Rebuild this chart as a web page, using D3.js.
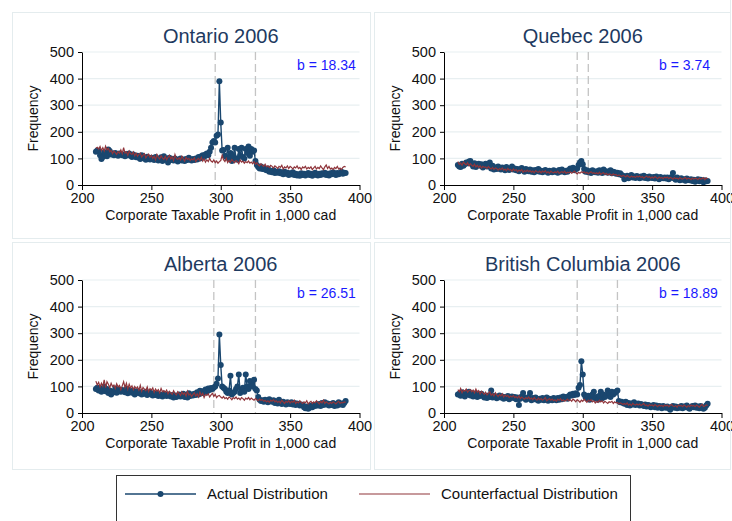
<!DOCTYPE html>
<html>
<head>
<meta charset="utf-8">
<script src="https://cdn.jsdelivr.net/npm/d3@7"></script>
<style>
  body { margin: 0; background: #fff; }
  svg { display: block; font-family: "Liberation Sans", Arial, Helvetica, sans-serif; }
</style>
</head>
<body>
<svg id="chart" width="732" height="521"></svg>
<script>
// Profit bins (in 1,000 cad), one per thousand
const bins = d3.range(210, 391);

const xTicks = [200, 250, 300, 350, 400];
const yTicks = [0, 100, 200, 300, 400, 500];

// Ontario 2006
const ontarioActual = [
  125,130,128,112,98,105,122,118,108,133,
  128,115,118,112,120,114,110,118,116,112,
  115,108,117,112,118,110,105,115,108,104,
  110,102,98,112,104,100,95,106,100,96,
  102,98,94,105,100,92,98,104,90,108,
  96,100,85,102,94,98,92,100,96,88,
  95,100,92,96,90,98,94,102,96,92,
  98,94,100,96,105,100,108,112,105,115,
  118,112,125,140,160,165,160,185,190,390,
  235,130,132,110,105,140,100,120,90,110,
  140,100,95,135,110,140,105,100,135,120,
  145,110,135,125,130,90,75,68,62,70,
  60,65,58,55,62,50,52,48,55,45,
  50,46,52,44,48,40,50,42,46,38,
  44,40,48,38,42,36,40,35,44,38,
  42,36,40,45,38,42,35,40,46,38,
  36,42,38,44,40,46,38,42,36,44,
  40,48,42,38,45,40,44,50,42,46,
  45
];
const ontarioCounter = [
  138,142,135,145,130,140,128,146,132,138,
  125,130,118,128,122,115,126,120,132,118,
  140,120,125,112,128,118,115,124,110,120,
  108,115,120,105,112,118,102,110,116,104,
  112,100,108,95,115,104,98,110,102,96,
  108,95,104,112,98,106,92,115,100,96,
  102,94,108,98,90,104,96,100,92,98,
  94,102,88,96,100,92,104,90,98,86,
  95,88,100,90,86,94,84,90,82,88,
  92,112,95,88,100,84,92,86,96,90,
  84,92,88,80,94,86,90,82,88,84,
  90,82,86,80,88,78,84,76,72,80,
  74,70,78,68,72,66,74,70,64,72,
  68,62,70,66,74,60,68,64,72,62,
  70,66,60,68,64,72,62,66,58,68,
  64,70,60,66,62,68,58,64,70,60,
  66,62,72,64,58,68,75,62,70,60,
  64,58,66,62,70,60,64,58,66,70,
  68
];
const ontarioCuts = [296, 325];
const ontarioB = "b = 18.34";

// Quebec 2006
const quebecActual = [
  75,70,68,80,72,78,85,82,88,90,
  78,70,82,68,75,80,72,78,66,74,
  80,70,76,85,62,72,58,66,60,70,
  62,58,66,60,55,68,60,56,62,70,
  58,62,55,60,52,58,64,55,50,60,
  56,52,58,50,55,48,56,52,60,50,
  54,48,52,56,50,46,54,50,48,55,
  50,52,46,56,50,58,52,48,54,50,
  56,62,58,65,55,60,62,75,85,90,
  78,60,50,55,48,52,45,55,50,48,
  52,46,55,50,45,58,48,52,46,50,
  55,44,50,48,42,46,40,44,38,35,
  22,28,35,25,30,38,28,32,26,34,
  30,25,32,28,35,26,30,24,32,28,
  26,30,24,32,28,22,30,26,25,28,
  24,28,22,26,30,45,24,20,28,22,
  18,25,20,22,16,24,20,18,22,15,
  20,12,18,22,14,20,16,10,18,14,
  15
];
const quebecCounter = [
  88,78,82,74,86,80,76,84,72,80,
  74,70,78,68,74,66,72,64,70,66,
  68,62,70,64,60,66,58,64,62,56,
  62,58,64,56,60,54,62,56,58,52,
  60,54,58,50,56,52,58,48,54,50,
  56,50,54,48,52,46,54,50,48,52,
  46,52,48,54,46,50,44,52,48,46,
  50,46,52,44,48,50,46,52,44,48,
  46,50,44,48,52,46,42,48,44,50,
  46,50,44,48,42,46,50,44,46,42,
  46,42,48,40,44,46,40,44,38,42,
  40,36,42,38,40,34,38,36,32,36,
  34,30,36,32,28,34,30,32,28,34,
  30,34,28,32,26,30,34,28,32,26,
  30,26,32,28,24,30,26,28,24,30,
  26,30,24,28,26,22,28,24,26,22,
  28,24,22,26,28,22,26,24,20,26,
  22,26,24,20,26,22,24,28,20,26,
  24
];
const quebecCuts = [296, 304];
const quebecB = "b = 3.74";

// Alberta 2006
const albertaActual = [
  90,95,85,92,80,88,100,82,90,75,
  85,70,80,78,92,76,84,88,80,86,
  82,78,90,74,86,80,76,84,70,78,
  82,74,78,70,76,72,80,68,74,78,
  70,66,74,68,72,64,70,66,62,72,
  68,64,70,66,62,68,58,66,60,64,
  70,62,66,72,60,68,58,74,64,70,
  66,72,68,78,70,84,74,82,76,88,
  80,92,86,94,90,96,100,110,130,295,
  180,100,95,90,80,75,85,140,70,75,
  80,90,100,145,75,85,95,80,145,100,
  90,120,115,100,125,90,85,60,50,45,
  48,42,50,44,40,52,46,42,48,38,
  44,36,50,40,34,42,38,32,40,36,
  34,40,32,38,30,36,34,28,32,30,
  22,18,24,16,20,28,22,30,26,32,
  28,34,26,38,30,40,32,36,28,34,
  30,38,26,34,28,40,32,36,30,38,
  45
];
const albertaCounter = [
  120,105,115,98,112,100,125,95,118,108,
  95,112,100,105,92,110,98,104,88,102,
  118,96,112,90,108,94,102,88,100,92,
  98,86,104,82,96,90,84,98,80,92,
  86,94,78,90,82,88,76,92,80,84,
  78,86,72,82,76,70,84,74,68,80,
  74,66,80,70,76,64,82,68,72,62,
  70,76,64,72,60,78,66,74,58,70,
  66,72,60,68,74,62,70,58,64,66,
  60,56,62,54,58,52,60,56,50,58,
  54,60,52,56,50,58,54,48,56,52,
  58,50,56,52,48,54,50,46,52,48,
  50,44,48,42,46,40,48,44,50,42,
  46,40,44,38,48,42,36,44,40,46,
  38,44,40,48,36,42,38,46,40,36,
  42,38,46,34,40,44,36,42,38,46,
  40,34,44,38,48,36,42,38,34,40,
  36,42,38,34,40,44,36,40,38,42,
  40
];
const albertaCuts = [295, 325];
const albertaB = "b = 26.51";

// British Columbia 2006
const bcActual = [
  70,72,65,78,68,62,75,70,80,66,
  72,62,68,74,60,70,64,72,66,58,
  62,56,66,60,85,58,64,62,55,60,
  66,58,62,54,60,56,64,52,58,62,
  56,60,52,58,30,54,62,75,58,50,
  54,60,75,48,56,52,58,50,46,54,
  50,56,48,52,58,46,54,50,48,56,
  52,48,56,50,58,52,62,56,60,54,
  64,70,66,72,68,74,70,95,105,195,
  145,70,60,55,65,50,60,70,80,55,
  60,50,65,80,55,70,60,65,85,75,
  60,80,70,75,80,85,45,40,42,38,
  35,42,30,38,28,36,32,40,30,34,
  36,28,34,30,26,32,24,30,28,22,
  26,30,22,28,20,26,24,18,26,22,
  20,24,18,12,22,26,20,24,18,22,
  20,26,18,24,22,28,20,16,22,26,
  22,28,20,24,18,26,22,16,20,28,
  35
];
const bcCounter = [
  88,80,92,76,86,82,90,78,84,88,
  80,86,76,90,78,84,72,82,76,70,
  78,68,74,80,66,72,64,76,68,62,
  70,64,72,60,68,62,66,58,64,60,
  66,58,62,56,64,54,60,56,52,58,
  54,60,52,56,50,58,52,48,56,50,
  54,48,52,58,46,50,54,48,52,46,
  50,44,52,48,54,46,50,44,48,52,
  46,50,44,52,48,42,50,46,40,48,
  44,52,46,40,48,44,50,42,46,38,
  44,40,48,42,46,38,44,40,36,42,
  40,44,36,42,38,40,34,38,36,32,
  36,32,38,30,34,28,36,32,30,34,
  30,34,28,32,36,28,30,26,32,28,
  30,26,32,28,24,30,26,28,24,30,
  26,30,24,28,32,26,24,28,22,30,
  26,28,24,30,26,22,28,24,30,26,
  28,24,30,26,22,28,32,24,26,30,
  28
];
const bcCuts = [296, 325];
const bcB = "b = 18.89";

const legendLabels = ["Actual Distribution", "Counterfactual Distribution"];
const xTitle = "Corporate Taxable Profit in 1,000 cad";
const yTitle = "Frequency";

// Colours
const navy = "#1a476f";
const maroon = "#90353b";
const titleColor = "#1e3a5f";
const gridColor = "#e8eff1";
const frameColor = "#e4ecee";
const cutColor = "#c4c4c4";
const bColor = "#1a1aff";

// Panel layout (graph region box + plot area)
const panels = [
  { title: "Ontario 2006", actual: ontarioActual, counter: ontarioCounter, cuts: ontarioCuts, b: ontarioB,
    box: [12, 12, 358, 226], plot: [82, 52] },
  { title: "Quebec 2006", actual: quebecActual, counter: quebecCounter, cuts: quebecCuts, b: quebecB,
    box: [374, 12, 356, 226], plot: [444, 52] },
  { title: "Alberta 2006", actual: albertaActual, counter: albertaCounter, cuts: albertaCuts, b: albertaB,
    box: [12, 242, 358, 227], plot: [82, 280] },
  { title: "British Columbia 2006", actual: bcActual, counter: bcCounter, cuts: bcCuts, b: bcB,
    box: [374, 242, 356, 227], plot: [444, 280] }
];

const plotW = 277.5, plotH = 133;
const svg = d3.select("#chart");

svg.append("rect").attr("x", 0).attr("y", 0).attr("width", 732).attr("height", 521).attr("fill", "#fff");

panels.forEach(p => {
  // Sub-graph frame
  svg.append("rect")
    .attr("x", p.box[0] + 0.5).attr("y", p.box[1] + 0.5)
    .attr("width", p.box[2]).attr("height", p.box[3])
    .attr("fill", "#fff").attr("stroke", frameColor).attr("stroke-width", 1);

  const g = svg.append("g").attr("transform", `translate(${p.plot[0]},${p.plot[1]})`);
  const x = d3.scaleLinear().domain([200, 400]).range([0, plotW]);
  const y = d3.scaleLinear().domain([0, 500]).range([plotH, 0]);

  // Horizontal gridlines
  g.selectAll("line.grid").data(yTicks.filter(v => v > 0)).enter().append("line")
    .attr("class", "grid")
    .attr("x1", 0).attr("x2", plotW)
    .attr("y1", d => y(d)).attr("y2", d => y(d))
    .attr("stroke", gridColor).attr("stroke-width", 1.2);

  // Bunching window markers
  g.selectAll("line.cut").data(p.cuts).enter().append("line")
    .attr("class", "cut")
    .attr("x1", d => x(d)).attr("x2", d => x(d))
    .attr("y1", 0).attr("y2", plotH)
    .attr("stroke", cutColor).attr("stroke-width", 1.3)
    .attr("stroke-dasharray", "8,4");

  const actualPts = bins.map((b, i) => [b, p.actual[i]]);
  const counterPts = bins.map((b, i) => [b, p.counter[i]]);
  const line = d3.line().x(d => x(d[0])).y(d => y(d[1]));

  // Actual distribution: connected line with markers
  g.append("path").datum(actualPts)
    .attr("d", line).attr("fill", "none")
    .attr("stroke", navy).attr("stroke-width", 1.4);
  g.selectAll("circle.pt").data(actualPts).enter().append("circle")
    .attr("class", "pt")
    .attr("cx", d => x(d[0])).attr("cy", d => y(d[1]))
    .attr("r", 3).attr("fill", navy);

  // Counterfactual distribution
  g.append("path").datum(counterPts)
    .attr("d", line).attr("fill", "none")
    .attr("stroke", maroon).attr("stroke-width", 1.2);

  // Axes
  const yAxis = g.append("g")
    .call(d3.axisLeft(y).tickValues(yTicks).tickSize(4).tickSizeOuter(0).tickPadding(4));
  const xAxis = g.append("g").attr("transform", `translate(0,${plotH})`)
    .call(d3.axisBottom(x).tickValues(xTicks).tickSize(5).tickSizeOuter(0).tickPadding(3));
  [yAxis, xAxis].forEach(a => {
    a.select(".domain").attr("stroke", "#000").attr("stroke-width", 1);
    a.selectAll(".tick line").attr("stroke", "#000").attr("stroke-width", 1);
    a.selectAll(".tick text").attr("fill", "#111").attr("font-size", 14.5)
      .attr("font-family", "'Liberation Sans', Arial, sans-serif");
  });

  // Titles
  g.append("text")
    .attr("x", plotW / 2).attr("y", -9)
    .attr("text-anchor", "middle")
    .attr("font-size", 20).attr("fill", titleColor)
    .text(p.title);
  g.append("text")
    .attr("x", plotW / 2).attr("y", plotH + 35)
    .attr("text-anchor", "middle")
    .attr("font-size", 14).attr("fill", "#111")
    .text(xTitle);
  g.append("text")
    .attr("transform", `translate(-44,${plotH / 2}) rotate(-90)`)
    .attr("text-anchor", "middle")
    .attr("font-size", 14).attr("fill", "#111")
    .text(yTitle);

  // Bunching estimate
  g.append("text")
    .attr("x", x(355)).attr("y", y(450))
    .attr("dy", "0.35em")
    .attr("font-size", 14).attr("fill", bColor)
    .text(p.b);
});

// Outer border of the combined graph
svg.append("line").attr("x1", 730.5).attr("x2", 730.5).attr("y1", 0).attr("y2", 470)
  .attr("stroke", frameColor);

// Legend
const lg = svg.append("g");
lg.append("rect")
  .attr("x", 116.5).attr("y", 475.5).attr("width", 514).attr("height", 60)
  .attr("fill", "#fff").attr("stroke", "#333").attr("stroke-width", 1);
lg.append("line").attr("x1", 125).attr("x2", 196).attr("y1", 494).attr("y2", 494)
  .attr("stroke", navy).attr("stroke-width", 1.4);
lg.append("circle").attr("cx", 160.5).attr("cy", 494).attr("r", 3).attr("fill", navy);
lg.append("text").attr("x", 207).attr("y", 494).attr("dy", "0.35em")
  .attr("font-size", 15).attr("fill", "#111").text(legendLabels[0]);
lg.append("line").attr("x1", 359).attr("x2", 430).attr("y1", 494).attr("y2", 494)
  .attr("stroke", maroon).attr("stroke-width", 1.2);
lg.append("text").attr("x", 441).attr("y", 494).attr("dy", "0.35em")
  .attr("font-size", 15).attr("fill", "#111").text(legendLabels[1]);
</script>
</body>
</html>
